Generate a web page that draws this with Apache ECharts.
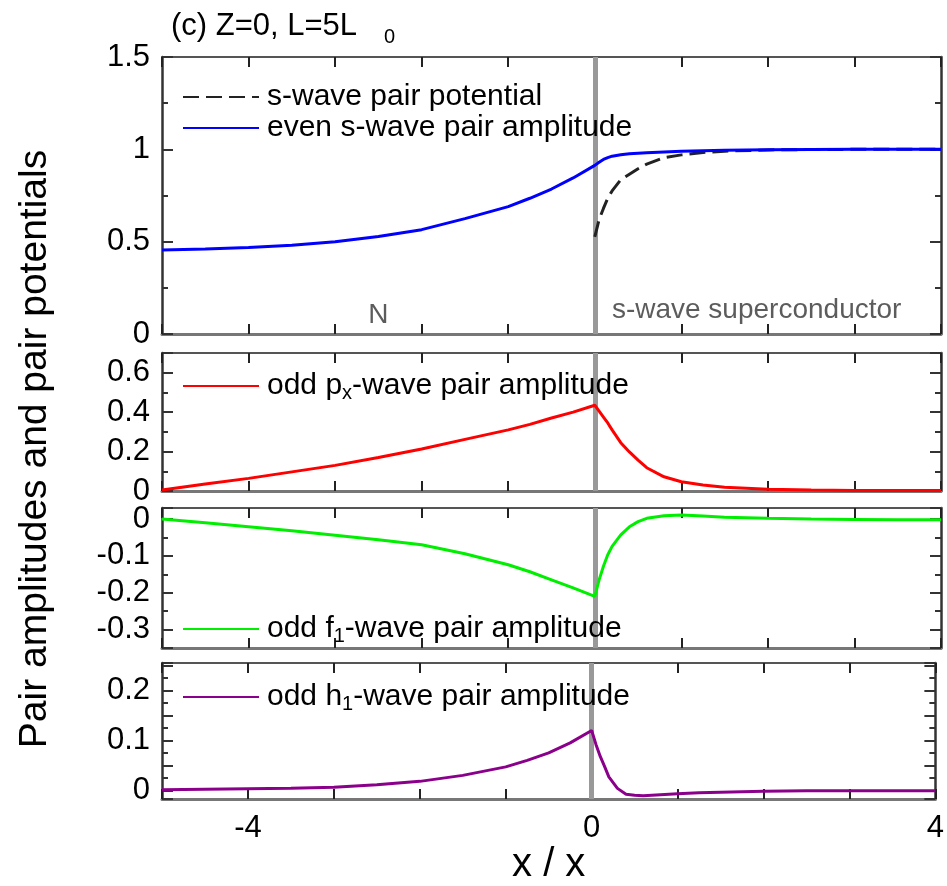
<!DOCTYPE html>
<html>
<head>
<meta charset="utf-8">
<script src="https://cdn.jsdelivr.net/npm/echarts@6.0.0/dist/echarts.min.js"></script>
<style>
  html, body { margin: 0; background: #fff; }
  #chart { width: 947px; height: 886px; }
</style>
</head>
<body>
<div id="chart"></div>
<script>
// position along the junction, in units of x0
const xs = [-5, -4.5, -4, -3.5, -3, -2.5, -2, -1.5, -1, -0.75, -0.5, -0.25, 0,
  0.05, 0.1, 0.15, 0.2, 0.3, 0.4, 0.5, 0.6, 0.8, 1, 1.25, 1.5, 2, 2.5, 3, 3.5, 4];

// pair potential only lives in the superconductor (x >= 0)
const sPotential = [null, null, null, null, null, null, null, null, null, null, null, null, 0.526,
  0.62, 0.68, 0.735, 0.775, 0.835, 0.865, 0.895, 0.92, 0.955, 0.97, 0.983, 0.99, 0.997, 0.999, 1, 1, 1];
const evenS = [0.455, 0.46, 0.468, 0.48, 0.5, 0.528, 0.565, 0.625, 0.69, 0.735, 0.785, 0.845, 0.913,
  0.93, 0.945, 0.955, 0.963, 0.971, 0.976, 0.979, 0.982, 0.986, 0.99, 0.993, 0.995, 0.998, 0.999, 1, 1, 1];
const oddPx = [0.005, 0.035, 0.064, 0.097, 0.13, 0.17, 0.213, 0.262, 0.31, 0.338, 0.37, 0.4, 0.435,
  0.405, 0.375, 0.345, 0.31, 0.245, 0.198, 0.157, 0.118, 0.072, 0.047, 0.03, 0.019, 0.009, 0.005, 0.003, 0.002, 0.002];
const oddF1 = [0, -0.01, -0.021, -0.032, -0.044, -0.056, -0.07, -0.094, -0.124, -0.143, -0.165, -0.187, -0.21,
  -0.165, -0.128, -0.097, -0.074, -0.043, -0.021, -0.007, 0.002, 0.009, 0.011, 0.008, 0.005, 0.002, 0, -0.001, -0.002, -0.002];
const oddH1 = [0.001, 0.002, 0.003, 0.004, 0.006, 0.011, 0.018, 0.03, 0.047, 0.06, 0.075, 0.095, 0.12,
  0.092, 0.068, 0.048, 0.027, 0.004, -0.008, -0.01, -0.011, -0.009, -0.007, -0.005, -0.004, -0.002, -0.001, -0.001, -0.001, -0.001];

// tick labels
const xTicks = [-4, 0, 4];
const yTicks1 = [0, 0.5, 1, 1.5];
const yTicks2 = [0, 0.2, 0.4, 0.6];
const yTicks3 = [-0.3, -0.2, -0.1, 0];
const yTicks4 = [0, 0.1, 0.2];

// region labels in the top panel: [x, y, text]
const regionLabels = [[-2.5, 0.1, 'N'], [1.87, 0.13, 's-wave superconductor']];
const interfaceX = 0;

const FONT = "'Liberation Sans', Arial, sans-serif";
const pts = (ys) => xs.map((x, i) => [x, ys[i]]).filter((p) => p[1] !== null);
const onlyTicks = (ticks) => (v) => (ticks.some((t) => Math.abs(t - v) < 1e-9) ? String(+v.toFixed(2)) : '');

const grids = [
  { left: 162, width: 779, top: 57, height: 277 },
  { left: 162, width: 779, top: 353, height: 138 },
  { left: 162, width: 779, top: 508, height: 140 },
  { left: 162, width: 779, top: 663, height: 139 },
];
const yRanges = [
  { min: 0, max: 1.5, interval: 0.5, ticks: yTicks1 },
  { min: 0, max: 0.7, interval: 0.2, ticks: yTicks2 },
  { min: -0.35, max: 0.03, splitNumber: 4, ticks: yTicks3 },
  { min: -0.0175, max: 0.255, splitNumber: 5, ticks: yTicks4 },
];

// per grid: y axes 4i (left), 4i+1 (right mirror), 4i+2 / 4i+3 hidden anchors
// that pin the bottom / top x axes to the frame edges
const xAxis = [];
const yAxis = [];
grids.forEach((g, i) => {
  const last = i === grids.length - 1;
  xAxis.push({
    type: 'value', gridIndex: i, min: -5, max: 4, interval: 1, position: 'bottom',
    axisLine: { show: true, onZero: true, onZeroAxisIndex: 4 * i + 2, lineStyle: { color: '#777', width: 3 } },
    axisTick: { show: true, inside: true, length: 10, lineStyle: { color: '#222', width: 2 } },
    axisLabel: { show: last, formatter: onlyTicks(xTicks), fontSize: 31, fontFamily: FONT, color: '#000', margin: 14 },
    splitLine: { show: false },
    name: last ? 'x / x' : '',
    nameLocation: 'middle', nameGap: 44,
    nameTextStyle: { fontSize: 40, fontFamily: FONT, color: '#000' },
  });
  xAxis.push({
    type: 'value', gridIndex: i, min: -5, max: 4, interval: 1, position: 'top',
    axisLine: { show: true, onZero: true, onZeroAxisIndex: 4 * i + 3, lineStyle: { color: '#555', width: 2 } },
    axisTick: { show: true, inside: true, length: 10, lineStyle: { color: '#222', width: 2 } },
    axisLabel: { show: false }, splitLine: { show: false },
  });
  const r = yRanges[i];
  const yBase = () => ({
    type: 'value', gridIndex: i, min: r.min, max: r.max,
    interval: r.interval, splitNumber: r.splitNumber,
    axisLine: { show: true, onZero: false, lineStyle: { color: '#333', width: 2.5 } },
    axisTick: { show: true, inside: true, length: 11, lineStyle: { color: '#333', width: 2 } },
    minorTick: { show: true, splitNumber: 2, length: 6, lineStyle: { color: '#333', width: 2 } },
    splitLine: { show: false },
  });
  yAxis.push(Object.assign(yBase(), {
    position: 'left',
    axisLabel: { formatter: onlyTicks(r.ticks), fontSize: 31, fontFamily: FONT, color: '#000', margin: 12 },
  }));
  yAxis.push(Object.assign(yBase(), { position: 'right', axisLabel: { show: false } }));
  yAxis.push({ type: 'value', gridIndex: i, min: 0, max: 1, show: false });
  yAxis.push({ type: 'value', gridIndex: i, min: -1, max: 0, show: false });
});

// grey N/S interface, drawn in every panel
const interfaceLine = () => ({
  silent: true, symbol: 'none', label: { show: false }, z: 1,
  lineStyle: { color: '#999', width: 5, type: 'solid' },
  data: [{ xAxis: interfaceX }],
});

const line = (name, ys, panel, color, dash, withInterface) => ({
  name, type: 'line', data: pts(ys),
  xAxisIndex: panel * 2, yAxisIndex: panel * 4,
  symbol: 'none', z: 3,
  lineStyle: { color, width: 3, type: dash || 'solid' },
  itemStyle: { color },
  markLine: withInterface ? interfaceLine() : undefined,
});

const legendBase = () => ({
  orient: 'vertical', left: 177, itemWidth: 76, itemHeight: 2, itemGap: 1,
  textStyle: {
    fontSize: 30, fontFamily: FONT, color: '#000', lineHeight: 30, padding: [0, 0, 0, 3],
    rich: { sub: { fontSize: 20, fontFamily: FONT, color: '#000', padding: [14, 0, 0, 0] } },
  },
  formatter: (n) => n.replace(/_(\w)/, '{sub|$1}'),
});

echarts.init(document.getElementById('chart')).setOption({
  animation: false,
  backgroundColor: '#fff',
  title: [
    { text: '(c) Z=0, L=5L', left: 166, top: 6, textStyle: { fontSize: 31, fontWeight: 'normal', fontFamily: FONT, color: '#000' } },
    { text: '0', left: 379, top: 22, textStyle: { fontSize: 20, fontWeight: 'normal', fontFamily: FONT, color: '#000' } },
  ],
  graphic: [{
    type: 'text', x: 35, y: 449, rotation: Math.PI / 2,
    style: { text: 'Pair amplitudes and pair potentials', fontSize: 39, fontFamily: FONT, fill: '#000', align: 'center', verticalAlign: 'middle' },
  }],
  legend: [
    Object.assign(legendBase(), { top: 77, data: ['s-wave pair potential', 'even s-wave pair amplitude'] }),
    Object.assign(legendBase(), { top: 366, data: ['odd p_x-wave pair amplitude'] }),
    Object.assign(legendBase(), { top: 609, data: ['odd f_1-wave pair amplitude'] }),
    Object.assign(legendBase(), { top: 677, data: ['odd h_1-wave pair amplitude'] }),
  ],
  grid: grids,
  xAxis,
  yAxis,
  series: [
    line('s-wave pair potential', sPotential, 0, '#222', [16, 7], false),
    line('even s-wave pair amplitude', evenS, 0, '#0000ff', null, true),
    line('odd p_x-wave pair amplitude', oddPx, 1, '#ff0000', null, true),
    line('odd f_1-wave pair amplitude', oddF1, 2, '#00ee00', null, true),
    line('odd h_1-wave pair amplitude', oddH1, 3, '#8b008b', null, true),
    {
      type: 'scatter', xAxisIndex: 0, yAxisIndex: 0, symbolSize: 0, silent: true,
      data: regionLabels,
      label: {
        show: true, position: 'inside', formatter: (p) => p.data[2],
        fontSize: 28, fontFamily: FONT, color: '#333',
      },
    },
  ],
});
</script>
</body>
</html>
